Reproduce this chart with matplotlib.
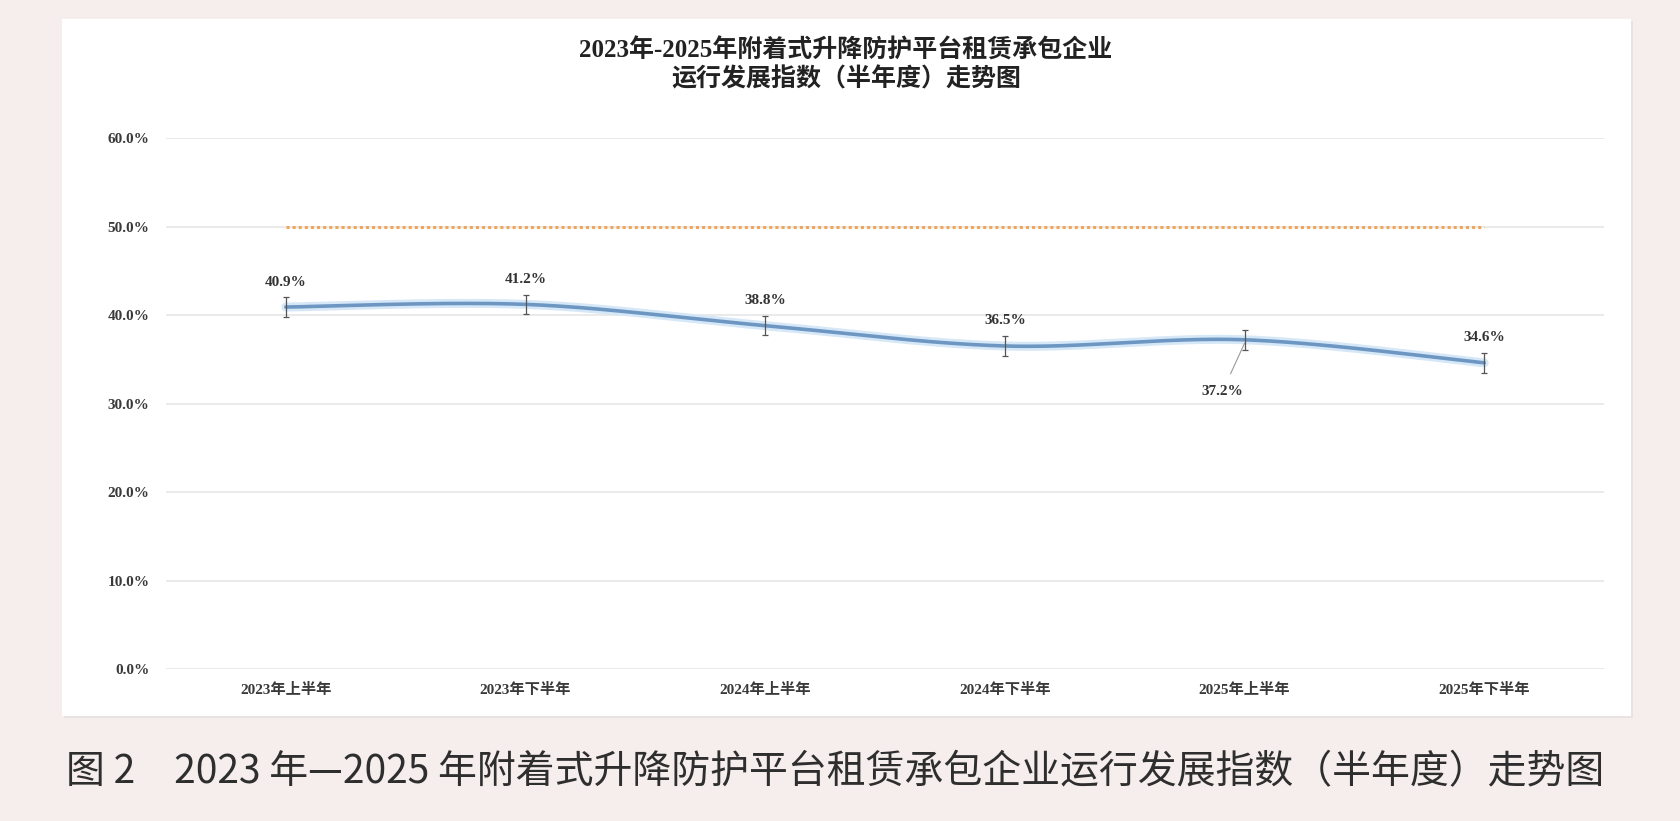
import numpy as np
import matplotlib
matplotlib.use("Agg")
import matplotlib.pyplot as plt
from matplotlib.patches import Rectangle

plt.rcParams['font.family'] = ['Liberation Serif', 'Noto Sans CJK SC', 'DejaVu Sans']

categories = ["2023年上半年", "2023年下半年", "2024年上半年", "2024年下半年", "2025年上半年", "2025年下半年"]
index_values = [40.9, 41.2, 38.8, 36.5, 37.2, 34.6]
error_values = [1.1, 1.1, 1.1, 1.1, 1.1, 1.1]
threshold_values = [50.0, 50.0, 50.0, 50.0, 50.0, 50.0]
y_ticks = [0, 10, 20, 30, 40, 50, 60]
title_text = "2023年-2025年附着式升降防护平台租赁承包企业\n运行发展指数（半年度）走势图"
caption_text = "图 2　2023 年—2025 年附着式升降防护平台租赁承包企业运行发展指数（半年度）走势图"

W, H = 1680, 821
fig = plt.figure(figsize=(W / 100, H / 100), dpi=100)
fig.patch.set_facecolor("#f6eded")

# white panel as a background axes
bg = fig.add_axes([0, 0, 1, 1], zorder=0)
bg.set_xlim(0, W)
bg.set_ylim(H, 0)
bg.axis("off")
bg.add_patch(Rectangle((64, 21), 1633 - 64, 718 - 21, facecolor="#e9e2e2", edgecolor="none"))
bg.add_patch(Rectangle((62, 19), 1631 - 62, 716 - 19, facecolor="white", edgecolor="none"))

ax = fig.add_axes([166 / W, 1 - 669 / H, (1604 - 166) / W, (669 - 138) / H], zorder=2)
ax.set_facecolor("none")
x = np.arange(len(categories))
ax.set_xlim(-0.5, len(categories) - 0.5)
ax.set_ylim(0, 60)
ax.set_yticks(y_ticks)
ax.set_yticklabels([f"{v:.1f}%" for v in y_ticks], fontsize=11, fontweight="bold", color="#3a3a3a")
ax.set_xticks(x)
ax.set_xticklabels(categories, fontsize=11, fontweight="bold", color="#3a3a3a")
ax.tick_params(length=0)
ax.tick_params(axis="x", pad=10)
ax.tick_params(axis="y", pad=12)
for s in ax.spines.values():
    s.set_visible(False)
ax.yaxis.grid(True, color="#e6e6e6", linewidth=1.2)
ax.set_axisbelow(True)

# threshold dotted line
ax.plot(x, threshold_values, color="#f0a65a", linestyle=(0, (1, 1)), linewidth=2.2, zorder=2)

# smooth curve (Catmull-Rom / Bezier through data points)
px = np.array(x, dtype=float)
py = np.array(index_values, dtype=float)
P = np.column_stack([px, py])
Pext = np.vstack([P[0], P, P[-1]])
curve = []
t = np.linspace(0, 1, 60)[:, None]
for i in range(len(P) - 1):
    p0, p1, p2, p3 = Pext[i], Pext[i + 1], Pext[i + 2], Pext[i + 3]
    c1 = p1 + (p2 - p0) / 6
    c2 = p2 - (p3 - p1) / 6
    seg = (1 - t) ** 3 * p1 + 3 * (1 - t) ** 2 * t * c1 + 3 * (1 - t) * t ** 2 * c2 + t ** 3 * p2
    curve.append(seg)
curve = np.vstack(curve)
ax.plot(curve[:, 0], curve[:, 1], color="#d6e8f7", linewidth=6.5, solid_capstyle="round", zorder=3)
ax.plot(curve[:, 0], curve[:, 1], color="#6d97c2", linewidth=2.6, solid_capstyle="round", zorder=4)

ax.errorbar(x, index_values, yerr=error_values, fmt="none", ecolor="#555555",
            elinewidth=0.9, capsize=2.5, capthick=0.9, zorder=5)

# data labels
for i, v in enumerate(index_values):
    lbl = f"{v:.1f}%"
    if i == 4:
        ax.annotate(lbl, xy=(x[i], v - 0.4), xytext=(-16, -35), textcoords="offset points",
                    ha="center", va="center", fontsize=11, fontweight="bold", color="#333333",
                    arrowprops=dict(arrowstyle="-", color="#999999", lw=0.8, shrinkA=7, shrinkB=0))
    else:
        ax.annotate(lbl, xy=(x[i], v), xytext=(0, 18), textcoords="offset points",
                    ha="center", va="center", fontsize=11, fontweight="bold", color="#333333")

fig.text(846 / W, 1 - 65 / H, title_text, ha="center", va="center", fontsize=18,
         fontweight="bold", color="#222222", linespacing=1.25, zorder=3)

fig.text(66 / W, 1 - 772 / H, caption_text, ha="left", va="center", fontsize=28,
         family=["Noto Sans CJK SC", "DejaVu Sans"], fontweight="medium", color="#2e2e2e", zorder=3)

fig.savefig("out.png", dpi=100, facecolor=fig.get_facecolor())
